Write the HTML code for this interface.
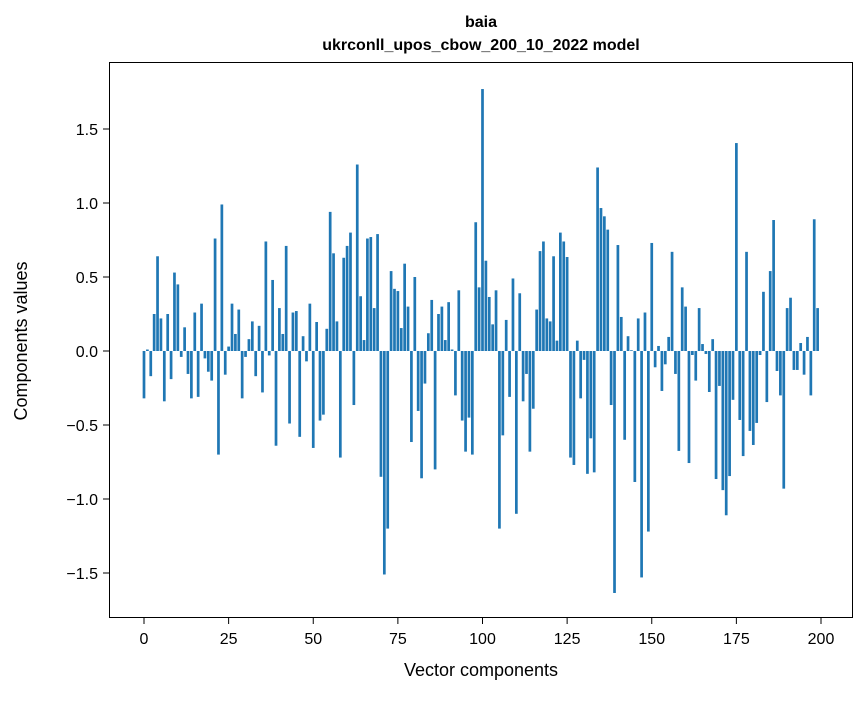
<!DOCTYPE html>
<html><head><meta charset="utf-8"><style>
body{margin:0;background:#fff;}
svg text{font-family:"Liberation Sans",sans-serif;fill:#000;}
</style></head><body>
<svg id="chart" width="867" height="696" xmlns="http://www.w3.org/2000/svg">
<rect width="867" height="696" fill="#fff"/>
<text x="481" y="27" font-size="16" font-weight="bold" text-anchor="middle">baia</text>
<text x="481" y="50" font-size="16" font-weight="bold" text-anchor="middle">ukrconll_upos_cbow_200_10_2022 model</text>
<g id="bars"></g>
<g id="axes"></g>
<rect x="109.5" y="62.5" width="743" height="555" fill="none" stroke="#000" stroke-width="1"/>
<text x="481" y="676" font-size="18" text-anchor="middle">Vector components</text>
<text transform="translate(27,341) rotate(-90)" font-size="18" text-anchor="middle">Components values</text>
</svg>
<script>
const values=[-0.32,0.01,-0.17,0.25,0.64,0.22,-0.34,0.25,-0.19,0.53,
0.45,-0.04,0.16,-0.155,-0.32,0.26,-0.31,0.32,-0.05,-0.14,
-0.2,0.76,-0.70,0.99,-0.16,0.03,0.32,0.115,0.28,-0.32,
-0.04,0.08,0.2,-0.17,0.17,-0.28,0.74,-0.03,0.48,-0.64,
0.29,0.115,0.71,-0.49,0.26,0.27,-0.58,0.1,-0.07,0.32,
-0.655,0.196,-0.47,-0.43,0.15,0.94,0.66,0.2,-0.72,0.63,
0.71,0.80,-0.365,1.26,0.37,0.074,0.76,0.77,0.29,0.79,
-0.85,-1.51,-1.20,0.54,0.42,0.405,0.155,0.59,0.30,-0.615,
0.5,-0.405,-0.86,-0.22,0.12,0.345,-0.80,0.25,0.30,0.074,
0.33,0.01,-0.30,0.41,-0.47,-0.68,-0.45,-0.70,0.87,0.43,
1.77,0.61,0.365,0.18,0.41,-1.20,-0.57,0.21,-0.31,0.49,
-1.10,0.39,-0.34,-0.155,-0.68,-0.39,0.28,0.675,0.74,0.22,
0.2,0.64,0.07,0.80,0.74,0.635,-0.72,-0.77,0.07,-0.32,
-0.06,-0.83,-0.59,-0.82,1.24,0.966,0.91,0.82,-0.365,-1.635,
0.716,0.23,-0.60,0.10,0.005,-0.885,0.22,-1.53,0.26,-1.22,
0.73,-0.11,0.034,-0.27,-0.09,0.095,0.67,-0.155,-0.675,0.43,
0.30,-0.757,-0.027,-0.2,0.29,0.047,-0.02,-0.277,0.08,-0.865,
-0.236,-0.94,-1.11,-0.845,-0.33,1.405,-0.466,-0.71,0.67,-0.54,
-0.635,-0.486,-0.027,0.40,-0.345,0.54,0.885,-0.135,-0.30,-0.93,
0.29,0.36,-0.128,-0.128,0.054,-0.16,0.095,-0.30,0.89,0.29];
const yTicks=[-1.5,-1.0,-0.5,0.0,0.5,1.0,1.5];
const yTickLabels=["\u22121.5","\u22121.0","\u22120.5","0.0","0.5","1.0","1.5"];
const xTicks=[0,25,50,75,100,125,150,175,200];
const NS="http://www.w3.org/2000/svg";
function xs(v){return 144+v*3.385;}
function ys(v){return 351-v*148;}
const bars=document.getElementById('bars');
values.forEach((v,i)=>{
  const r=document.createElementNS(NS,'rect');
  
  
  const y0=ys(0),y1=ys(v);
  r.setAttribute('x',xs(i-0.4));
  r.setAttribute('width',3.385*0.8);
  r.setAttribute('y',Math.min(y0,y1));
  r.setAttribute('height',Math.abs(y1-y0));
  r.setAttribute('fill','#1f77b4');
  bars.appendChild(r);
});
const axes=document.getElementById('axes');
yTicks.forEach((t,i)=>{
  const l=document.createElementNS(NS,'line');
  
  
  l.setAttribute('x1',103);l.setAttribute('x2',109.5);
  l.setAttribute('y1',ys(t));l.setAttribute('y2',ys(t));
  l.setAttribute('stroke','#000');
  axes.appendChild(l);
  const tx=document.createElementNS(NS,'text');
  
  
  tx.setAttribute('x',98);tx.setAttribute('y',ys(t)+6);
  tx.setAttribute('font-size','16');tx.setAttribute('text-anchor','end');
  tx.textContent=yTickLabels[i];
  axes.appendChild(tx);
});
xTicks.forEach(t=>{
  const l=document.createElementNS(NS,'line');
  
  
  l.setAttribute('x1',xs(t));l.setAttribute('x2',xs(t));
  l.setAttribute('y1',617.5);l.setAttribute('y2',624);
  l.setAttribute('stroke','#000');
  axes.appendChild(l);
  const tx=document.createElementNS(NS,'text');
  
  
  tx.setAttribute('x',xs(t));tx.setAttribute('y',644);
  tx.setAttribute('font-size','16');tx.setAttribute('text-anchor','middle');
  tx.textContent=String(t);
  axes.appendChild(tx);
});
</script>
</body></html>
